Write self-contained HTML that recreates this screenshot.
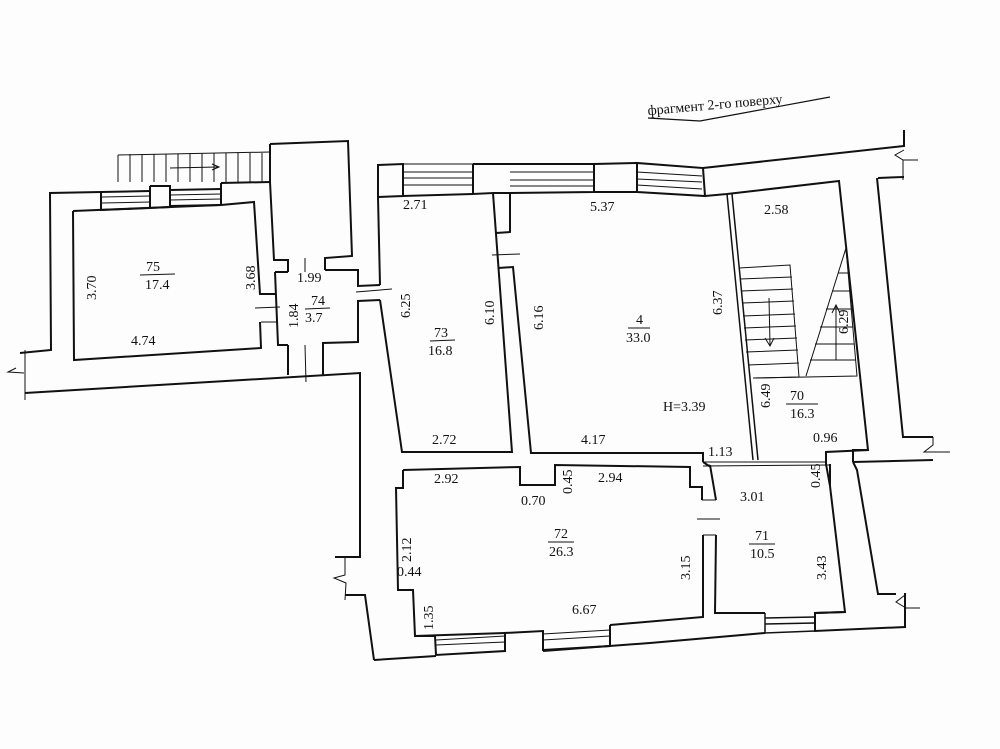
<!DOCTYPE html>
<html><head><meta charset="utf-8"><style>
html,body{margin:0;padding:0;background:#fff}
svg{display:block}
text{font-family:"Liberation Serif",serif;font-size:14px;fill:#111}
</style></head><body>
<svg width="1000" height="749" viewBox="0 0 1000 749" xmlns="http://www.w3.org/2000/svg">
<rect width="1000" height="749" fill="#fdfdfd"/>
<g fill="none" stroke="#111" stroke-width="2" stroke-linejoin="miter">
<path d="M648 118 L700 121 L830 97" stroke-width="1.2"/>
<path d="M118 155 L270 152 M118 155 L118 182" stroke-width="1"/>
<g stroke-width="1">
<path d="M130 154V182M142 154V182M154 154V182M166 154V182M178 154V182M190 153V182M202 153V182M214 153V182M226 153V182M238 153V182M250 153V182M262 153V182"/>
<path d="M170 168 L218 167"/><path d="M212 164 L219 167 L212 170"/>
</g>
<path d="M270 144 L348 141 L352 256 L325 258 L325 270"/>
<path d="M270 144 L270 182 L274 260 L288 260 L288 272"/>
<path d="M101 192 L50 193 L51 350 L20 353"/>
<path d="M16 368 L8 372 L24 373 M25 350 L25 400" stroke-width="1"/>
<path d="M25 393 L360 373 L360 557 L335 557"/>
<path d="M101 192 L150 191 M101 210 L150 208 M170 190 L221 189 M170 206 L221 205" />
<path d="M102 197 L150 196 M102 203 L150 202 M170 195 L221 194 M170 200 L221 199" stroke-width="1"/>
<path d="M101 192 L101 211 M150 186 L150 208 L170 207 L170 186 L150 186 M221 189 L221 205 M221 183 L270 182 M221 183 L221 205"/>
<path d="M73 211 L221 205 M221 205 L254 202 L260 294 L275 294 M260 322 L261 348 L74 360 L73 211"/>
<path d="M261 322 L277 322 M255 308 L280 307" stroke-width="1"/>
<path d="M275 272 L288 272 M325 270 L358 270 L358 286 L380 285 M380 300 L358 301 L358 342 L323 343 L323 375 M288 345 L278 345 L275 272 M288 345 L288 375"/>
<path d="M305 258 L305 272 M305 345 L306 382 M356 292 L392 289" stroke-width="1"/>
<path d="M378 196 L378 165 L403 164 L403 196 L378 197 L380 285 M380 300 L402 452 L512 452 L493 193 L473 194 L473 164"/>
<path d="M403 164 L473 164 M403 185 L473 185 M404 172 L473 172 M404 178 L473 178" stroke-width="1"/>
<path d="M403 185 L403 196 L473 194"/>
<path d="M493 193 L510 193 L510 232 L496 233 M498 268 L513 267 L531 453 L703 453 L703 462"/>
<path d="M492 255 L520 254" stroke-width="1"/>
<path d="M473 164 L594 164 L594 192 L637 192 L637 163 L703 168 L705 196 L637 192 M594 192 L510 193 M594 164 L637 163"/>
<path d="M510 172 L594 172 M510 180 L594 180 M510 186 L594 186 M637 172 L702 176 M637 179 L702 182 M637 185 L702 189" stroke-width="1"/>
<path d="M703 168 L904 146 L904 130"/>
<path d="M904 150 L895 155 L903 160 L918 160 M903 160 L903 180" stroke-width="1"/>
<path d="M878 178 L903 177 L903 178 M877 178 L903 437 L933 437"/>
<path d="M933 437 L933 445 L924 452 L950 452" stroke-width="1"/>
<path d="M705 196 L727 194 L839 181 L868 450 L826 452 L826 462"/>
<path d="M727 194 L753 460 M732 194 L758 460" stroke-width="1.5"/>
<g stroke-width="1">
<path d="M739 268 L790 265 L799 377 L755 378"/>
<path d="M740 279 L792 277 M741 291 L793 289 M742 303 L794 301 M743 316 L795 314 M744 328 L796 326 M745 340 L797 338 M746 352 L798 350 M748 365 L799 363"/>
<path d="M806 376 L846 248 L857 376 L753 378"/>
<path d="M838 273 L849 273 M832 291 L851 291 M826 309 L852 309 M820 327 L853 327 M815 344 L854 344 M810 360 L856 360"/>
<path d="M769 298 L770 345 M765 338 L770 346 L774 338 M836 360 L836 305 M832 313 L836 305 L840 313"/>
</g>
<path d="M703 462 L826 462 M703 466 L830 465" stroke-width="1"/>
<path d="M703 462 L709 466 L710 465"/>
<path d="M826 462 L826 464 L830 486 L845 612 L815 613 L815 631 L905 627 L905 593"/>
<path d="M905 595 L896 602 L906 608 L920 608" stroke-width="1"/>
<path d="M853 462 L933 460 M853 462 L857 470 L878 594 L896 594"/>
<path d="M868 450 L853 450 L853 462" />
<path d="M403 470 L520 467 L520 485 L555 485 L555 465 L690 467 L690 487 L702 487 L702 500 M703 535 L703 617 L610 625 M505 633 L415 636 L413 590 L398 590 L396 488 L403 488 L403 470"/>
<path d="M702 500 L716 500 M703 535 L716 535 M697 519 L720 519" stroke-width="1"/>
<path d="M710 465 L716 500 M716 535 L715 613 L765 613 M815 613 L845 612"/>
<path d="M830 464 L830 486" />
<path d="M415 636 L435 636 L436 655 L505 651 L505 633 L543 631 L543 650 L610 646 L610 625"/>
<path d="M436 640 L505 636 M436 645 L505 642 M543 634 L610 630 M543 640 L610 636" stroke-width="1"/>
<path d="M765 613 L765 633 L815 631 M765 618 L815 617 M765 624 L815 623" stroke-width="1.5"/>
<path d="M374 660 L436 656 M543 651 L650 643 L765 633"/>
<path d="M345 595 L365 595 L374 660"/>
<path d="M345 557 L345 575 L334 578 L346 583 L345 600" stroke-width="1"/>
</g>
<g>
<text x="648" y="115" font-size="15" transform="rotate(-5 648 115)">фрагмент 2-го поверху</text>
<text x="146" y="271">75</text><line x1="140" y1="275" x2="175" y2="274" stroke="#111"/><text x="145" y="289">17.4</text>
<text x="96" y="300" transform="rotate(-90 96 300)">3.70</text>
<text x="255" y="290" transform="rotate(-90 255 290)">3.68</text>
<text x="131" y="345">4.74</text>
<text x="297" y="282">1.99</text>
<text x="311" y="305">74</text><line x1="305" y1="309" x2="330" y2="308" stroke="#111"/><text x="305" y="322">3.7</text>
<text x="298" y="328" transform="rotate(-90 298 328)">1.84</text>
<text x="403" y="209">2.71</text>
<text x="410" y="318" transform="rotate(-90 410 318)">6.25</text>
<text x="494" y="325" transform="rotate(-90 494 325)">6.10</text>
<text x="434" y="337">73</text><line x1="430" y1="341" x2="455" y2="340" stroke="#111"/><text x="428" y="355">16.8</text>
<text x="432" y="444">2.72</text>
<text x="590" y="211">5.37</text>
<text x="543" y="330" transform="rotate(-90 543 330)">6.16</text>
<text x="722" y="315" transform="rotate(-90 722 315)">6.37</text>
<text x="636" y="324">4</text><line x1="628" y1="328" x2="650" y2="328" stroke="#111"/><text x="626" y="342">33.0</text>
<text x="663" y="411">H=3.39</text>
<text x="581" y="444">4.17</text>
<text x="708" y="456">1.13</text>
<text x="764" y="214">2.58</text>
<text x="848" y="334" transform="rotate(-90 848 334)">6.29</text>
<text x="770" y="408" transform="rotate(-90 770 408)">6.49</text>
<text x="790" y="400">70</text><line x1="786" y1="404" x2="818" y2="404" stroke="#111"/><text x="790" y="418">16.3</text>
<text x="813" y="442">0.96</text>
<text x="434" y="483">2.92</text>
<text x="521" y="505">0.70</text>
<text x="572" y="494" transform="rotate(-90 572 494)">0.45</text>
<text x="598" y="482">2.94</text>
<text x="554" y="538">72</text><line x1="548" y1="542" x2="574" y2="542" stroke="#111"/><text x="549" y="556">26.3</text>
<text x="411" y="562" transform="rotate(-90 411 562)">2.12</text>
<text x="397" y="576">0.44</text>
<text x="433" y="630" transform="rotate(-90 433 630)">1.35</text>
<text x="572" y="614">6.67</text>
<text x="690" y="580" transform="rotate(-90 690 580)">3.15</text>
<text x="740" y="501">3.01</text>
<text x="820" y="488" transform="rotate(-90 820 488)">0.45</text>
<text x="755" y="540">71</text><line x1="749" y1="544" x2="775" y2="544" stroke="#111"/><text x="750" y="558">10.5</text>
<text x="826" y="580" transform="rotate(-90 826 580)">3.43</text>
</g>
</svg>
</body></html>
